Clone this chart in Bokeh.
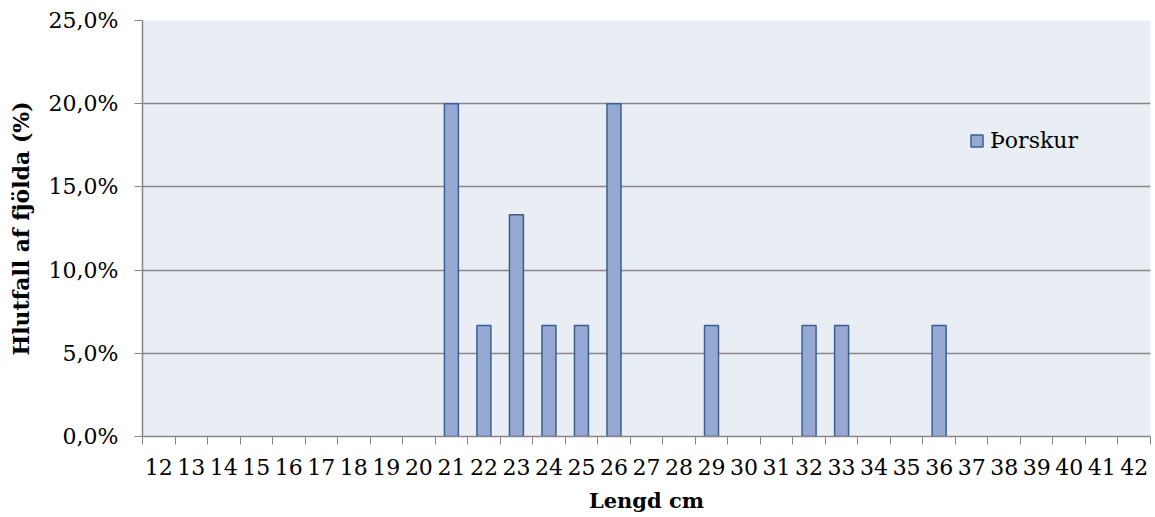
from bokeh.plotting import figure
from bokeh.models import Range1d, FixedTicker, Legend, LegendItem
from bokeh.embed import file_html
from bokeh.resources import INLINE

lengths = [21, 22, 23, 24, 25, 26, 29, 32, 33, 36]
shares = [0.20, 0.0667, 0.1333, 0.0667, 0.0667, 0.20, 0.0667, 0.0667, 0.0667, 0.0667]
categories = list(range(12, 43))
y_ticks = [0.0, 0.05, 0.10, 0.15, 0.20, 0.25]
y_tick_labels = ["0,0%", "5,0%", "10,0%", "15,0%", "20,0%", "25,0%"]
series_name = "Þorskur"

FONT = "DejaVu Serif"
GRID = "#878787"

p = figure(width=1155, height=517, output_backend="svg", toolbar_location=None,
           x_range=Range1d(categories[0] - 0.5, categories[-1] + 0.5),
           y_range=Range1d(0, 0.25),
           min_border_left=142, min_border_right=5, min_border_top=20, min_border_bottom=81)
p.background_fill_color = "#E9EDF4"
p.border_fill_color = "white"
p.outline_line_color = None

r = p.vbar(x=lengths, top=shares, width=0.43, fill_color="#95A9D2",
           line_color="#3A5F95", line_width=1.5)

# axes
p.xaxis.ticker = FixedTicker(ticks=categories, minor_ticks=[c - 0.5 for c in categories] + [categories[-1] + 0.5])
p.xaxis.major_tick_out = 0
p.xaxis.major_tick_in = 0
p.xaxis.minor_tick_out = 8
p.xaxis.minor_tick_in = 0
p.xaxis.minor_tick_line_color = GRID
p.xaxis.axis_line_color = GRID
p.xaxis.axis_line_width = 1.5
p.xaxis.major_label_standoff = 14
p.xaxis.axis_label = "Lengd cm"

p.yaxis.ticker = FixedTicker(ticks=y_ticks)
p.yaxis.major_label_overrides = {t: l for t, l in zip(y_ticks, y_tick_labels)}
p.yaxis.major_tick_out = 8
p.yaxis.major_tick_in = 0
p.yaxis.minor_tick_out = 0
p.yaxis.minor_tick_in = 0
p.yaxis.major_tick_line_color = GRID
p.yaxis.axis_line_color = GRID
p.yaxis.axis_line_width = 1.5
p.yaxis.major_label_standoff = 16
p.yaxis.axis_label = "Hlutfall af fjölda (%)"

for ax in (p.xaxis[0], p.yaxis[0]):
    ax.major_label_text_font = FONT
    ax.major_label_text_font_size = "22px"
    ax.major_label_text_color = "black"
    ax.axis_label_text_font = FONT
    ax.axis_label_text_font_style = "bold"
    ax.axis_label_text_color = "black"
p.xaxis.axis_label_text_font_size = "21px"
p.yaxis.axis_label_text_font_size = "22px"
p.xaxis.axis_label_standoff = 10
p.yaxis.axis_label_standoff = 12

p.xgrid.grid_line_color = None
p.ygrid.ticker = FixedTicker(ticks=y_ticks)
p.ygrid.grid_line_color = GRID
p.ygrid.grid_line_width = 1.5

legend = Legend(items=[LegendItem(label=series_name, renderers=[r])], location=(827, 283))
legend.background_fill_alpha = 0
legend.border_line_color = None
legend.label_text_font = FONT
legend.label_text_font_size = "22px"
legend.label_text_color = "black"
legend.glyph_width = 15
legend.glyph_height = 15
legend.label_standoff = 6
p.add_layout(legend)

open("out.html", "w").write(file_html(p, INLINE))
